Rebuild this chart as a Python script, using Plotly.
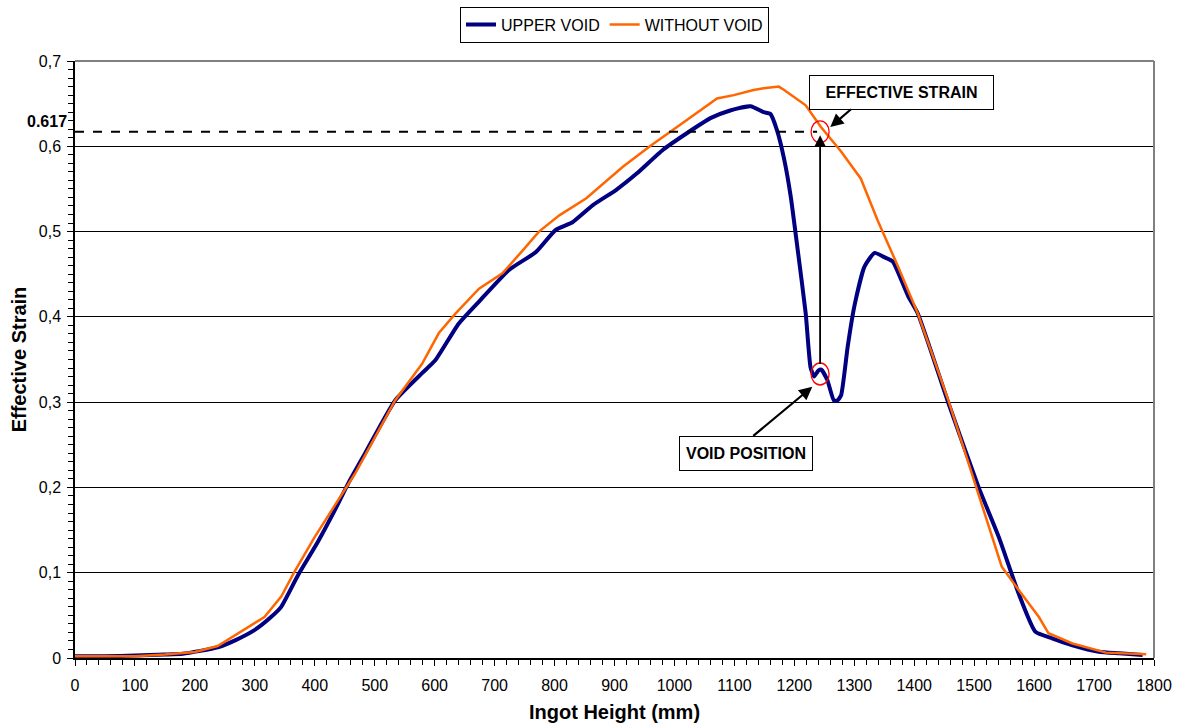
import plotly.graph_objects as go

# ---- data ----
upper_x = [0, 50, 100, 150, 180, 238, 268, 300, 327, 344, 372, 405, 439, 456, 484, 534,
           579, 601, 640, 674, 724, 769, 802, 830, 864, 903, 937, 981, 1020, 1060, 1093,
           1127, 1149, 1160, 1171, 1183, 1194, 1205, 1219, 1227, 1233, 1240, 1245, 1255,
           1266, 1272, 1278, 1289, 1300, 1317, 1334, 1350, 1364, 1390, 1406, 1457, 1507,
           1541, 1574, 1602, 1630, 1664, 1708, 1742, 1781]
upper_y = [0.002, 0.002, 0.003, 0.004, 0.005, 0.0125, 0.021, 0.033, 0.048, 0.06, 0.097,
           0.136, 0.181, 0.205, 0.24, 0.302, 0.334, 0.349, 0.392, 0.418, 0.455, 0.476,
           0.502, 0.511, 0.531, 0.549, 0.568, 0.596, 0.615, 0.633, 0.642, 0.647, 0.640,
           0.638, 0.619, 0.585, 0.541, 0.482, 0.404, 0.341, 0.33, 0.337, 0.338, 0.326,
           0.302, 0.302, 0.308, 0.365, 0.412, 0.459, 0.475, 0.47, 0.465, 0.424, 0.404,
           0.299, 0.201, 0.142, 0.076, 0.031, 0.023, 0.015, 0.0074, 0.0055, 0.0035]

without_x = [0, 100, 150, 200, 238, 316, 344, 366, 400, 439, 467, 534, 579, 607, 635, 674,
             713, 747, 774, 808, 853, 914, 959, 1009, 1043, 1071, 1099, 1132, 1149, 1174,
             1183, 1219, 1244, 1278, 1311, 1339, 1373, 1406, 1457, 1501, 1546, 1574, 1608,
             1624, 1664, 1720, 1787]
without_y = [0.002, 0.002, 0.004, 0.007, 0.014, 0.048, 0.072, 0.101, 0.142, 0.185, 0.216,
             0.302, 0.345, 0.381, 0.404, 0.433, 0.451, 0.478, 0.5, 0.519, 0.539, 0.576, 0.6,
             0.625, 0.642, 0.656, 0.66, 0.666, 0.668, 0.670, 0.666, 0.648, 0.623, 0.594,
             0.562, 0.513, 0.459, 0.404, 0.302, 0.205, 0.107, 0.08, 0.048, 0.029, 0.017,
             0.0063, 0.0043]

x_ticks = list(range(0, 1801, 100))
y_ticks = [0, 0.1, 0.2, 0.3, 0.4, 0.5, 0.6, 0.7]
y_tick_labels = ["0", "0,1", "0,2", "0,3", "0,4", "0,5", "0,6", "0,7"]

void_x = 1243
void_strain = 0.337
effective_strain = 0.617

FONT = "Liberation Sans, Arial, sans-serif"

fig = go.Figure()
fig.add_trace(go.Scatter(x=upper_x, y=upper_y, mode="lines", name="UPPER VOID",
                         line=dict(color="#000080", width=4, shape="spline", smoothing=0.5)))
fig.add_trace(go.Scatter(x=without_x, y=without_y, mode="lines", name="WITHOUT VOID",
                         line=dict(color="#FF6600", width=2.5)))

shapes = [
    # dashed reference line at 0.617
    dict(type="line", xref="x", yref="y", x0=0, x1=void_x - 5, y0=effective_strain,
         y1=effective_strain, line=dict(color="black", width=2, dash="dash")),
    # top / right plot border (gray)
    dict(type="line", xref="paper", yref="paper", x0=0, x1=1, y0=1, y1=1,
         line=dict(color="#808080", width=2)),
    dict(type="line", xref="paper", yref="paper", x0=1, x1=1, y0=0, y1=1,
         line=dict(color="#808080", width=2)),
    # red circles
    dict(type="circle", xref="x", yref="y", xsizemode="pixel", ysizemode="pixel",
         xanchor=void_x, yanchor=effective_strain, x0=-9, x1=9, y0=-11, y1=11,
         line=dict(color="red", width=1.3)),
    dict(type="circle", xref="x", yref="y", xsizemode="pixel", ysizemode="pixel",
         xanchor=void_x, yanchor=void_strain - 0.004, x0=-9, x1=9, y0=-11, y1=11,
         line=dict(color="red", width=1.3)),
]

annotations = [
    # vertical arrow from void position to effective strain
    dict(x=void_x, y=effective_strain - 0.004, ax=void_x, ay=void_strain + 0.006,
         xref="x", yref="y", axref="x", ayref="y", text="", showarrow=True,
         arrowhead=2, arrowsize=1.2, arrowwidth=1.8, arrowcolor="black"),
    # EFFECTIVE STRAIN box + arrow
    dict(x=1378, y=0.663, xref="x", yref="y", text="<b>EFFECTIVE STRAIN</b>",
         showarrow=False, font=dict(family=FONT, size=16, color="black"),
         bordercolor="black", borderwidth=1, bgcolor="white", width=181, height=31),
    dict(x=1260, y=0.6225, ax=1297, ay=0.645, xref="x", yref="y", axref="x", ayref="y",
         text="", showarrow=True, arrowhead=2, arrowsize=1.2, arrowwidth=2.2,
         arrowcolor="black"),
    # VOID POSITION box + arrow
    dict(x=1120, y=0.240, xref="x", yref="y", text="<b>VOID POSITION</b>",
         showarrow=False, font=dict(family=FONT, size=16, color="black"),
         bordercolor="black", borderwidth=1, bgcolor="white", width=130, height=31),
    dict(x=1230, y=0.318, ax=1129, ay=0.259, xref="x", yref="y", axref="x", ayref="y",
         text="", showarrow=True, arrowhead=2, arrowsize=1.2, arrowwidth=2.2,
         arrowcolor="black"),
    # 0.617 label on y axis
    dict(x=0, y=0.629, xref="paper", yref="y", xanchor="right", yanchor="middle",
         xshift=-6, text="<b>0.617</b>", showarrow=False,
         font=dict(family=FONT, size=16, color="black")),
]

fig.update_layout(
    width=1179, height=726,
    margin=dict(l=75, r=25, t=61, b=68, autoexpand=False),
    paper_bgcolor="white", plot_bgcolor="white",
    font=dict(family=FONT, size=16, color="black"),
    showlegend=True,
    legend=dict(orientation="h", x=0.5, xanchor="center", y=1.091, yanchor="top",
                bordercolor="black", borderwidth=1, bgcolor="white",
                font=dict(family=FONT, size=16, color="black"),
                itemwidth=30, tracegroupgap=0),
    shapes=shapes,
    annotations=annotations,
)

fig.update_xaxes(
    range=[0, 1800], tickvals=x_ticks, ticktext=[str(v) for v in x_ticks],
    showline=True, linecolor="black", linewidth=1.5,
    ticks="outside", ticklen=6, tickcolor="black", tickwidth=1,
    minor=dict(dtick=20, ticks="outside", ticklen=5, tickcolor="black", showgrid=False),
    showgrid=False, zeroline=False, ticklabelstandoff=6,
    tickfont=dict(family=FONT, size=16, color="black"),
    title=dict(text="<b>Ingot Height (mm)</b>", font=dict(family=FONT, size=20, color="black"),
               standoff=12),
)
fig.update_yaxes(
    range=[0, 0.7], tickvals=y_ticks, ticktext=y_tick_labels,
    showline=True, linecolor="black", linewidth=1.5,
    ticks="outside", ticklen=6, tickcolor="black", tickwidth=1,
    minor=dict(dtick=0.01, ticks="outside", ticklen=5, tickcolor="black", showgrid=False),
    showgrid=True, gridcolor="black", gridwidth=1, zeroline=False, ticklabelstandoff=3,
    tickfont=dict(family=FONT, size=16, color="black"),
    title=dict(text="<b>Effective Strain</b>", font=dict(family=FONT, size=20, color="black"),
               standoff=7),
)

fig.write_html("out.html", config={"displayModeBar": False},
               post_script="document.body.style.margin='0px';")
